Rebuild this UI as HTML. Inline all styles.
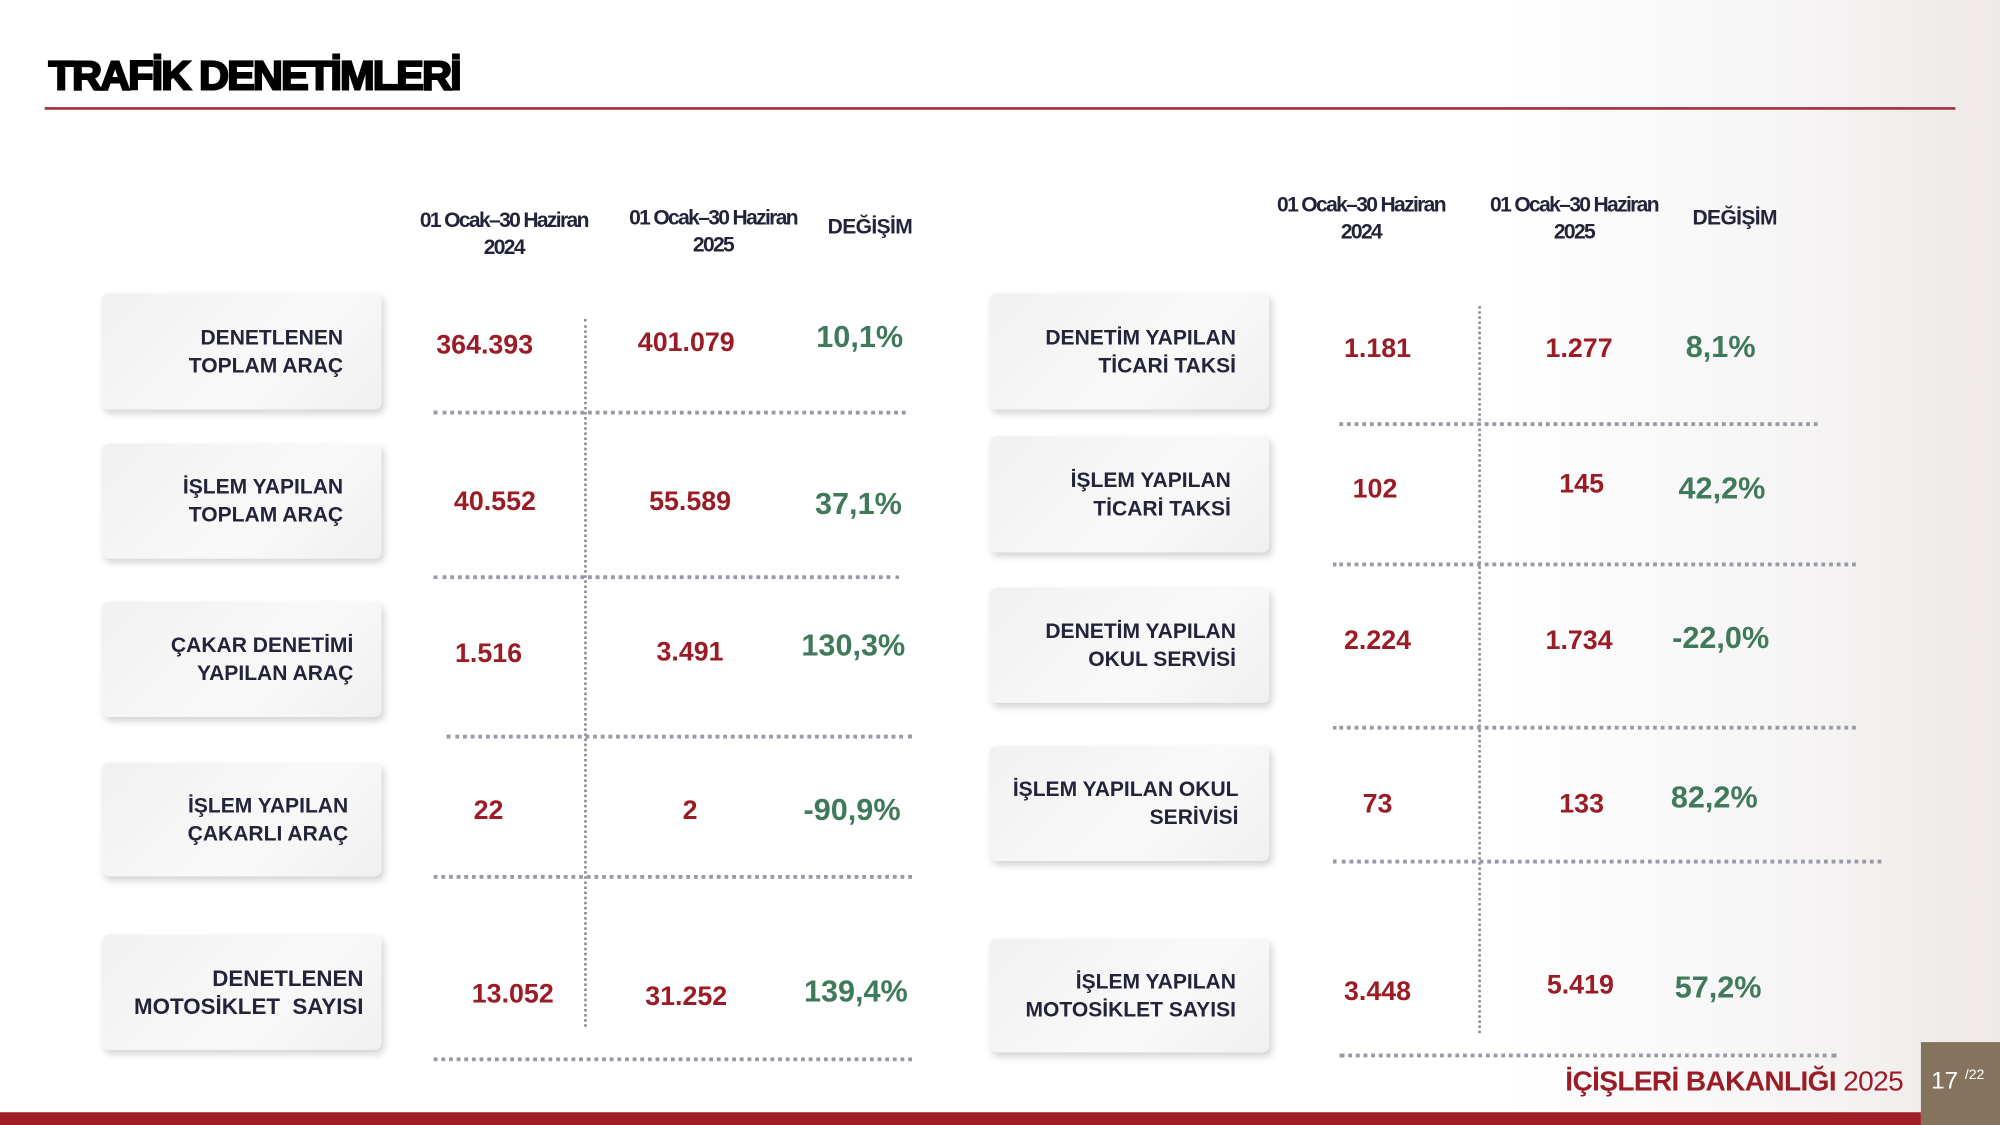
<!DOCTYPE html>
<html><head><meta charset="utf-8"><style>
html,body{margin:0;padding:0;background:#fff;overflow:hidden}
#w{position:absolute;left:0;top:0;width:1568px;height:882px;transform:scale(1.27551);transform-origin:0 0;font-family:"Liberation Sans",sans-serif;background:linear-gradient(90deg,#fff 0%,#fff 75%,#f6f4f4 90%,#efe9e9 100%)}
.a{position:absolute;white-space:nowrap}
.t{left:38px;top:41px;font-size:32px;font-weight:bold;color:#000;letter-spacing:-1.5px;-webkit-text-stroke:1.6px #000;transform:scaleX(1.02);transform-origin:0 0}
.hd{font-size:16.5px;font-weight:bold;color:#23233a;text-align:center;line-height:21px;letter-spacing:-1.3px;transform:translateX(-50%)}
.box{position:absolute;background:linear-gradient(135deg,#f1f1f2,#f9f9f9 60%,#f0f0f1);border-radius:5px;box-shadow:2px 3px 6px rgba(0,0,0,.18);width:219px}
.lb{position:absolute;right:30px;top:50%;transform:translateY(-50%);text-align:right;font-size:16.5px;font-weight:bold;color:#23233a;line-height:22px;white-space:nowrap}
.n{font-size:21px;font-weight:bold;color:#9b1c24;transform:translate(-50%,-50%)}
.g{font-size:24px;font-weight:bold;color:#3f7a5a;transform:translate(-50%,-50%)}
.hl{position:absolute;height:0;border-top:3px dotted #9a9aa6}
.vl{position:absolute;width:0;border-left:2px dotted #8a8a96}
</style></head><body><div id="w">
<div class="a t">TRAFİK DENETİMLERİ</div>
<div class="a" style="left:35px;top:84px;width:1498px;height:2px;background:#a52a30"></div>

<div class="a hd" style="left:395px;top:163px">01 Ocak–30 Haziran<br>2024</div>
<div class="a hd" style="left:559px;top:161px">01 Ocak–30 Haziran<br>2025</div>
<div class="a hd" style="left:682px;top:168px;letter-spacing:-0.5px">DEĞİŞİM</div>
<div class="a hd" style="left:1067px;top:151px">01 Ocak–30 Haziran<br>2024</div>
<div class="a hd" style="left:1234px;top:151px">01 Ocak–30 Haziran<br>2025</div>
<div class="a hd" style="left:1360px;top:161px;letter-spacing:-0.5px">DEĞİŞİM</div>

<div class="vl" style="left:458px;top:250px;height:555px"></div>
<div class="vl" style="left:1159px;top:240px;height:570px"></div>
<div class="hl" style="left:340px;top:322px;width:370px"></div>
<div class="hl" style="left:340px;top:451px;width:365px"></div>
<div class="hl" style="left:350px;top:576px;width:365px"></div>
<div class="hl" style="left:340px;top:686px;width:375px"></div>
<div class="hl" style="left:340px;top:829px;width:375px"></div>
<div class="hl" style="left:1050px;top:331px;width:375px"></div>
<div class="hl" style="left:1045px;top:441px;width:410px"></div>
<div class="hl" style="left:1045px;top:569px;width:410px"></div>
<div class="hl" style="left:1045px;top:674px;width:430px"></div>
<div class="hl" style="left:1050px;top:826px;width:390px"></div>

<div class="box" style="left:80px;top:230px;height:91px"><div class="lb">DENETLENEN<br>TOPLAM ARAÇ</div></div>
<div class="box" style="left:80px;top:348px;height:90px"><div class="lb">İŞLEM YAPILAN<br>TOPLAM ARAÇ</div></div>
<div class="box" style="left:80px;top:472px;height:90px"><div class="lb" style="right:22px">ÇAKAR DENETİMİ<br>YAPILAN ARAÇ</div></div>
<div class="box" style="left:80px;top:598px;height:89px"><div class="lb" style="right:26px">İŞLEM YAPILAN<br>ÇAKARLI ARAÇ</div></div>
<div class="box" style="left:80px;top:733px;height:90px"><div class="lb" style="right:14px;font-size:17.5px">DENETLENEN<br>MOTOSİKLET &nbsp;SAYISI</div></div>

<div class="box" style="left:776px;top:230px;height:91px"><div class="lb" style="right:26px">DENETİM YAPILAN<br>TİCARİ TAKSİ</div></div>
<div class="box" style="left:776px;top:342px;height:91px"><div class="lb">İŞLEM YAPILAN<br>TİCARİ TAKSİ</div></div>
<div class="box" style="left:776px;top:461px;height:90px"><div class="lb" style="right:26px">DENETİM YAPILAN<br>OKUL SERVİSİ</div></div>
<div class="box" style="left:776px;top:585px;height:90px"><div class="lb" style="right:24px">İŞLEM YAPILAN OKUL<br>SERİVİSİ</div></div>
<div class="box" style="left:776px;top:736px;height:89px"><div class="lb" style="right:26px">İŞLEM YAPILAN<br>MOTOSİKLET SAYISI</div></div>

<div class="a n" style="left:380px;top:271px">364.393</div>
<div class="a n" style="left:538px;top:269px">401.079</div>
<div class="a g" style="left:674px;top:265px">10,1%</div>
<div class="a n" style="left:388px;top:394px">40.552</div>
<div class="a n" style="left:541px;top:394px">55.589</div>
<div class="a g" style="left:673px;top:396px">37,1%</div>
<div class="a n" style="left:383px;top:513px">1.516</div>
<div class="a n" style="left:541px;top:512px">3.491</div>
<div class="a g" style="left:669px;top:507px">130,3%</div>
<div class="a n" style="left:383px;top:636px">22</div>
<div class="a n" style="left:541px;top:636px">2</div>
<div class="a g" style="left:668px;top:636px">-90,9%</div>
<div class="a n" style="left:402px;top:780px">13.052</div>
<div class="a n" style="left:538px;top:782px">31.252</div>
<div class="a g" style="left:671px;top:778px">139,4%</div>

<div class="a n" style="left:1080px;top:274px">1.181</div>
<div class="a n" style="left:1238px;top:274px">1.277</div>
<div class="a g" style="left:1349px;top:273px">8,1%</div>
<div class="a n" style="left:1078px;top:384px">102</div>
<div class="a n" style="left:1240px;top:380px">145</div>
<div class="a g" style="left:1350px;top:384px">42,2%</div>
<div class="a n" style="left:1080px;top:503px">2.224</div>
<div class="a n" style="left:1238px;top:503px">1.734</div>
<div class="a g" style="left:1349px;top:501px">-22,0%</div>
<div class="a n" style="left:1080px;top:631px">73</div>
<div class="a n" style="left:1240px;top:631px">133</div>
<div class="a g" style="left:1344px;top:626px">82,2%</div>
<div class="a n" style="left:1080px;top:778px">3.448</div>
<div class="a n" style="left:1239px;top:773px">5.419</div>
<div class="a g" style="left:1347px;top:775px">57,2%</div>

<div class="a" style="right:76px;top:835px;font-size:22px;color:#9b1c24;letter-spacing:-0.5px"><b>İÇİŞLERİ BAKANLIĞI</b> 2025</div>
<div class="a" style="left:0;top:872px;width:1506px;height:10px;background:#a01e26"></div>
<div class="a" style="left:1506px;top:817px;width:62px;height:65px;background:#86735e"></div>
<div class="a" style="left:1514px;top:837px;font-size:19px;color:#fff">17 <sup style="font-size:11px">/22</sup></div>
</div></body></html>
